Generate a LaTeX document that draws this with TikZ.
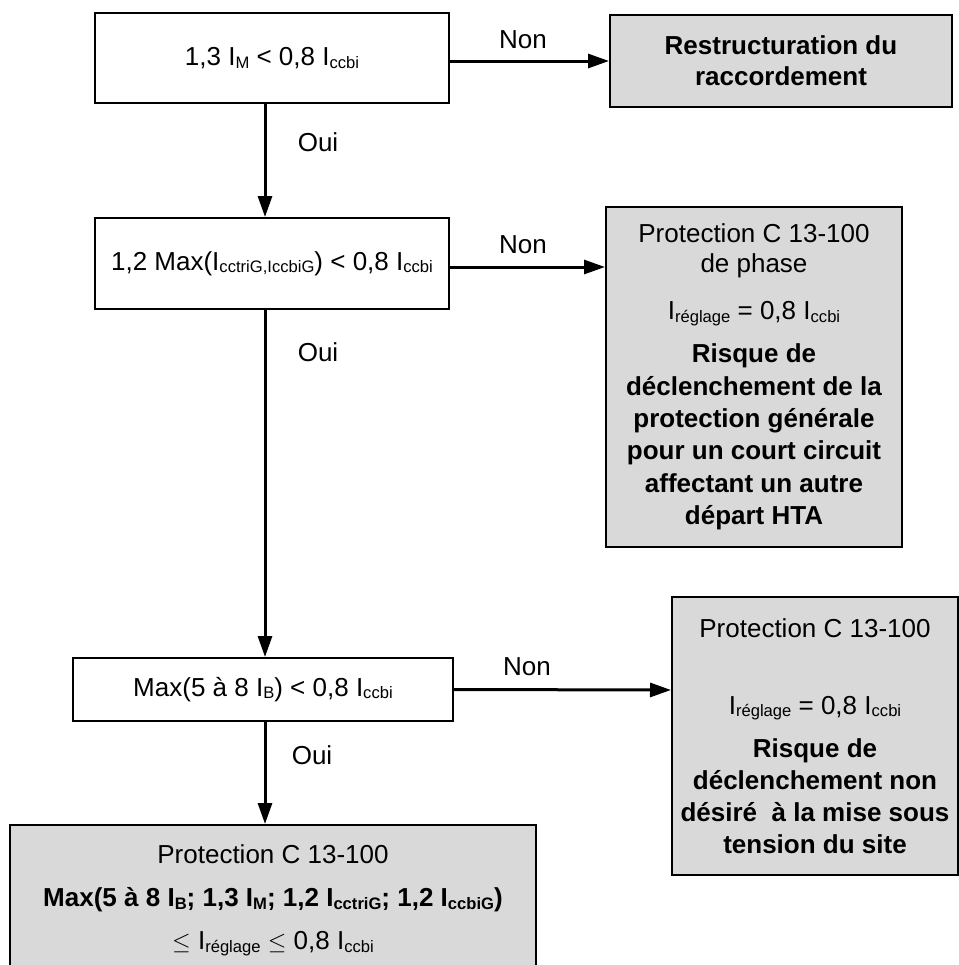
\documentclass[tikz,border=0pt]{standalone}
\usepackage{fontspec}
\setmainfont{Liberation Sans}
\usetikzlibrary{arrows.meta}
\newcommand\sbs[1]{\raisebox{-1.3pt}{\fontsize{8.3pt}{9pt}\selectfont #1}}

\begin{document}
\begin{tikzpicture}
[x=0.5pt,y=-0.5pt,
block/.style ={rectangle, draw, line width=1pt, align=center,
font=\fontsize{13pt}{15pt}\selectfont, inner sep=0pt},
result/.style ={block, fill=black!15},
line/.style ={draw, line width=1.5pt, -{Triangle[length=10.5pt,width=7pt]}},
answer/.style ={font=\fontsize{13pt}{15pt}\selectfont, inner sep=0pt}]
\useasboundingbox (0,0) rectangle (959,965);
\clip (0,0) rectangle (959,965);
% left column: tests
\node [block, minimum width=177pt, minimum height=45pt] (testM) at (272,58)
{1,3 I\sbs{M} < 0,8 I\sbs{ccbi}};
\node [block, minimum width=177pt, minimum height=45.5pt] (testcc) at (272,263.5)
{1,2 Max(I\sbs{cctriG,IccbiG}) < 0,8 I\sbs{ccbi}};
\node [block, minimum width=190pt, minimum height=31.5pt] (testB) at (263,689.5)
{Max(5 à 8 I\sbs{B}) < 0,8 I\sbs{ccbi}};
\node [result, minimum width=263pt, minimum height=75pt] (reglage) at (273,900)
{Protection C 13-100\\[6.5pt]
\textbf{Max(5 à 8 I\sbs{B}; 1,3 I\sbs{M}; 1,2 I\sbs{cctriG}; 1,2 I\sbs{ccbiG})}\\[6.5pt]
$\leq$ I\sbs{réglage} $\leq$ 0,8 I\sbs{ccbi}};
% right column: outcomes
\node [result, minimum width=171pt, minimum height=46pt] (restruct) at (781,61)
{\textbf{Restructuration du}\\[0.5pt]\textbf{raccordement}};
\node [result, minimum width=148pt, minimum height=170pt] (phase) at (754,377)
{Protection C 13-100\\de phase\\[8.5pt]
I\sbs{réglage} = 0,8 I\sbs{ccbi}\\[6.5pt]
\textbf{Risque de}\\[1.2pt]
\textbf{déclenchement de la}\\[1.2pt]
\textbf{protection générale}\\[1.2pt]
\textbf{pour un court circuit}\\[1.2pt]
\textbf{affectant un autre}\\[1.2pt]
\textbf{départ HTA}};
\node [result, minimum width=143pt, minimum height=139pt] (mise) at (815,736)
{Protection C 13-100\\[23.5pt]
I\sbs{réglage} = 0,8 I\sbs{ccbi}\\[6.5pt]
\textbf{Risque de}\\[1pt]
\textbf{déclenchement non}\\[1pt]
\textbf{désiré\ \ à la mise sous}\\[1pt]
\textbf{tension du site}};
% answers
\node [answer] (non1) at (523,40) {Non};
\node [answer] (non2) at (523,245) {Non};
\node [answer] (non3) at (527,667) {Non};
\node [answer] (oui1) at (318,142) {Oui};
\node [answer] (oui2) at (318,352) {Oui};
\node [answer] (oui3) at (312,755) {Oui};
% connectors
\path [line] ([xshift=-3.5pt]testM.south) -- ([xshift=-3.5pt]testcc.north);
\path [line] ([xshift=-3.5pt]testcc.south) -- ([xshift=1pt]testB.north);
\path [line] ([xshift=1pt]testB.south) -- ([xshift=-4pt]reglage.north);
\path [line] ([yshift=-1.5pt]testM.east) -- (restruct.west);
\path [line] ([yshift=-1.75pt]testcc.east) -- ([yshift=55pt]phase.west);
\path [line] (testB.east) -- ([yshift=23pt]mise.west);
\end{tikzpicture}
\end{document}
